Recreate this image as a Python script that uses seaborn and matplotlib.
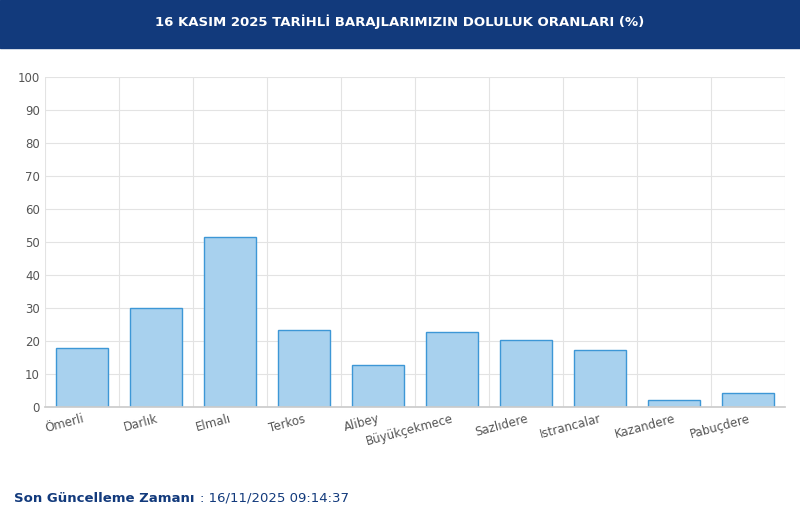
import numpy as np
import pandas as pd
import matplotlib
matplotlib.use("Agg")
import matplotlib.pyplot as plt
import seaborn as sns
from matplotlib.patches import Rectangle

sns.set_theme(style="white")
plt.rcParams['font.family'] = ['DejaVu Sans']

# data
dams = ["Ömerli", "Darlık", "Elmalı", "Terkos", "Alibey", "Büyükçekmece",
        "Sazlıdere", "Istrancalar", "Kazandere", "Pabuçdere"]
fill_pct = [17.9, 30.1, 51.6, 23.4, 12.6, 22.8, 20.3, 17.3, 2.2, 4.3]
title = "16 KASIM 2025 TARİHLİ BARAJLARIMIZIN DOLULUK ORANLARI (%)"

df = pd.DataFrame({"dam": dams, "pct": fill_pct})

fig = plt.figure(figsize=(8, 5.27), dpi=100)
fig.patches.append(Rectangle((0, 1 - 48 / 527), 1, 48 / 527, transform=fig.transFigure,
                             color="#123a7c", zorder=0))
fig.text(0.5, 1 - 22 / 527, title, color="white", fontsize=9.5, fontweight="bold",
         ha="center", va="center")

ax = fig.add_axes([0.056, 0.228, 0.925, 0.626])
sns.barplot(data=df, x="dam", y="pct", ax=ax, color="#a8d1ee", width=0.7,
            edgecolor="#3d97d6", linewidth=1, saturation=1)

ax.set_ylim(0, 100)
ax.set_xlim(-0.5, len(dams) - 0.5)
ax.set_yticks(range(0, 101, 10))
ax.set_xticks(np.arange(-0.5, len(dams)), minor=True)
ax.grid(True, axis="y", color="#e3e3e3", linewidth=0.8)
ax.grid(True, axis="x", which="minor", color="#e3e3e3", linewidth=0.8)
ax.set_axisbelow(True)
for s in ["top", "right", "left"]:
    ax.spines[s].set_visible(False)
ax.spines["bottom"].set_color("#cccccc")
ax.set_xlabel("")
ax.set_ylabel("")
ax.tick_params(axis="y", labelsize=8.5, colors="#555555", length=0)
ax.tick_params(axis="x", labelsize=8.5, colors="#555555", length=0, pad=4)
plt.setp(ax.get_xticklabels(), rotation=15, ha="right", rotation_mode="anchor")

t1 = fig.text(0.018, 1 - 498 / 527, "Son Güncelleme Zamanı ", color="#123a7c", fontsize=9.5,
              fontweight="bold", va="center")
fig.canvas.draw()
ax.annotate(": 16/11/2025 09:14:37", xy=(1, 0.5), xycoords=t1, color="#123a7c",
            fontsize=9.5, va="center", ha="left", annotation_clip=False)

fig.savefig("out.png", dpi=100)
